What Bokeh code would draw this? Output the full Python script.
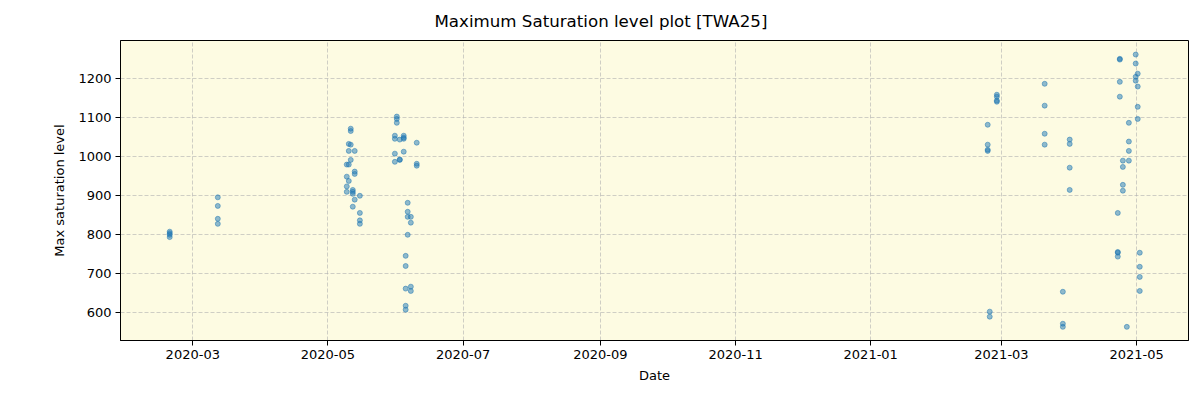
import pandas as pd
from bokeh.plotting import figure
from bokeh.models import Range1d, FixedTicker, DatetimeTickFormatter, ColumnDataSource
from bokeh.embed import file_html
from bokeh.resources import INLINE

# ---- data ----
dates = (
    ["2020-02-19 14:00"] * 4
    + ["2020-03-12 07:00"] * 4
    + ["2020-05-11 07:00", "2020-05-11 07:00", "2020-05-10 10:00", "2020-05-11 07:00",
       "2020-05-10 10:00", "2020-05-13 02:00", "2020-05-11 07:00", "2020-05-09 12:00",
       "2020-05-10 10:00", "2020-05-13 02:00", "2020-05-13 02:00", "2020-05-09 12:00",
       "2020-05-10 10:00", "2020-05-09 12:00", "2020-05-09 12:00", "2020-05-12 05:00",
       "2020-05-12 05:00", "2020-05-12 05:00", "2020-05-15 10:00", "2020-05-13 02:00",
       "2020-05-12 05:00", "2020-05-15 10:00", "2020-05-15 10:00", "2020-05-15 10:00"]
    + ["2020-06-01 02:00", "2020-06-01 02:00", "2020-06-01 02:00", "2020-05-31 05:00",
       "2020-05-31 05:00", "2020-06-02 10:00", "2020-06-04 05:00", "2020-06-04 05:00",
       "2020-06-04 05:00", "2020-06-10 02:00", "2020-05-31 05:00", "2020-06-04 05:00",
       "2020-06-02 10:00", "2020-06-02 10:00", "2020-05-31 05:00", "2020-06-10 02:00",
       "2020-06-10 02:00", "2020-06-06 00:00", "2020-06-06 00:00", "2020-06-06 00:00",
       "2020-06-07 10:00", "2020-06-07 10:00", "2020-06-06 00:00", "2020-06-05 02:00",
       "2020-06-05 02:00", "2020-06-05 02:00", "2020-06-05 02:00", "2020-06-05 02:00",
       "2020-06-07 10:00", "2020-06-07 10:00"]
    + ["2021-02-22 19:00"] * 4
    + ["2021-02-26 22:00"] * 4
    + ["2021-02-23 17:00"] * 2
    + ["2021-03-20 12:00"] * 4
    + ["2021-03-31 19:00"] * 4
    + ["2021-03-28 17:00"] * 3
    + ["2021-04-23 10:00"] * 4
    + ["2021-04-22 12:00"] * 4
    + ["2021-04-30 14:00"] * 4
    + ["2021-05-01 12:00"] * 4
    + ["2021-04-27 12:00"] * 4
    + ["2021-04-24 19:00"] * 4
    + ["2021-05-02 10:00"] * 4
    + ["2021-04-26 14:00"]
)
max_sat = (
    [808, 804, 800, 794]
    + [896, 874, 841, 828]
    + [1072, 1066, 1033, 1031, 1015, 1015, 992, 980, 980, 962, 956, 949,
       938, 924, 910, 915, 910, 905, 900, 890, 872, 856, 837, 828]
    + [1103, 1097, 1087, 1054, 1046, 1044, 1054, 1049, 1046, 1036, 1008, 1013,
       992, 993, 987, 982, 977, 882, 859, 846, 846, 831, 800, 746, 720, 662,
       618, 608, 667, 656]
    + [1082, 1031, 1018, 1015]
    + [1159, 1154, 1144, 1141]
    + [603, 590]
    + [1187, 1131, 1059, 1031]
    + [1044, 1033, 972, 915]
    + [654, 572, 564]
    + [1251, 1249, 1192, 1154]
    + [856, 756, 754, 744]
    + [1262, 1239, 1205, 1195]
    + [1213, 1180, 1128, 1097]
    + [1087, 1039, 1015, 990]
    + [990, 974, 928, 913]
    + [754, 718, 692, 656]
    + [564]
)
x_tick_dates = ["2020-03-01", "2020-05-01", "2020-07-01", "2020-09-01",
                "2020-11-01", "2021-01-01", "2021-03-01", "2021-05-01"]
y_ticks = [600, 700, 800, 900, 1000, 1100, 1200]

title_text = "Maximum Saturation level plot [TWA25]"
x_label = "Date"
y_label = "Max saturation level"

# ---- figure ----
src = ColumnDataSource(dict(x=pd.to_datetime(dates), y=max_sat))

FONT = "DejaVu Sans"
p = figure(width=1200, height=400, output_backend="svg", toolbar_location=None,
           x_axis_type="datetime",
           x_range=Range1d(pd.Timestamp("2020-01-28 09:00"), pd.Timestamp("2021-05-24 10:00")),
           y_range=Range1d(529, 1298),
           min_border_left=120, min_border_right=12, min_border_top=40, min_border_bottom=60)

p.title.text = title_text
p.title.align = "left"
p.title.offset = 314
p.title.standoff = 19
p.title.text_font = FONT
p.title.text_font_size = "16.67px"
p.title.text_font_style = "normal"
p.title.text_color = "black"

p.background_fill_color = "#fdfbe2"
p.border_fill_color = "white"
p.outline_line_color = "black"
p.outline_line_width = 1

p.scatter("x", "y", source=src, size=5, fill_color="#1f77b4", fill_alpha=0.5,
          line_color="#1f77b4", line_alpha=0.5, line_width=1)

ms = [pd.Timestamp(d).value // 10**6 for d in x_tick_dates]
p.xaxis.ticker = FixedTicker(ticks=ms)
p.xaxis.formatter = DatetimeTickFormatter(months="%Y-%m", days="%Y-%m", years="%Y-%m")
p.yaxis.ticker = FixedTicker(ticks=y_ticks)

for ax in (p.xaxis[0], p.yaxis[0]):
    ax.axis_line_color = "black"
    ax.major_tick_line_color = "black"
    ax.major_tick_out = 5
    ax.major_tick_in = 0
    ax.minor_tick_line_color = None
    ax.major_label_text_font = FONT
    ax.major_label_text_font_size = "13px"
    ax.major_label_text_color = "black"
    ax.axis_label_text_font = FONT
    ax.axis_label_text_font_size = "13px"
    ax.axis_label_text_font_style = "normal"
    ax.axis_label_text_color = "black"
    ax.major_label_standoff = 4

p.xaxis.axis_label = x_label
p.yaxis.axis_label = y_label
p.xaxis.axis_label_standoff = 6
p.yaxis.axis_label_standoff = 8

for g in (p.xgrid[0], p.ygrid[0]):
    g.grid_line_color = "#b0b0b0"
    g.grid_line_alpha = 0.6
    g.grid_line_dash = "4 2"
    g.grid_line_width = 1

open("out.html", "w").write(file_html(p, INLINE))
